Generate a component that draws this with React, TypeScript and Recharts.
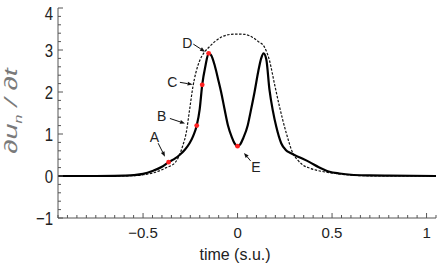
import { ComposedChart, Line, XAxis, YAxis, ReferenceLine, ReferenceDot } from 'recharts'

// solid curve (computed rate)
const solidTime = [-0.95, -0.75, -0.65, -0.6, -0.55, -0.5, -0.45, -0.4, -0.365, -0.33, -0.307, -0.28, -0.254, -0.235, -0.216, -0.2, -0.187, -0.17, -0.153, -0.14, -0.12, -0.1, -0.087, -0.07, -0.051, -0.03, -0.015, 0, 0.015, 0.03, 0.054, 0.07, 0.09, 0.11, 0.125, 0.138, 0.152, 0.169, 0.187, 0.205, 0.231, 0.255, 0.283, 0.33, 0.381, 0.43, 0.487, 0.54, 0.6, 0.7, 0.8, 1.05]
const solidRate = [0, 0, 0.003, 0.008, 0.02, 0.05, 0.12, 0.22, 0.33, 0.42, 0.5, 0.62, 0.78, 0.95, 1.2, 1.6, 2.17, 2.62, 2.92, 2.88, 2.62, 2.25, 2.0, 1.62, 1.21, 0.92, 0.77, 0.71, 0.76, 0.9, 1.21, 1.55, 2.0, 2.5, 2.8, 2.92, 2.78, 2.05, 1.55, 1.17, 0.78, 0.62, 0.54, 0.44, 0.33, 0.21, 0.1, 0.06, 0.03, 0.015, 0.008, 0]

// dashed curve
const dashTime = [-0.95, -0.65, -0.55, -0.5, -0.45, -0.4, -0.377, -0.35, -0.33, -0.307, -0.29, -0.272, -0.254, -0.236, -0.22, -0.201, -0.175, -0.148, -0.12, -0.08, -0.04, 0, 0.04, 0.08, 0.11, 0.141, 0.169, 0.195, 0.222, 0.258, 0.293, 0.32, 0.346, 0.38, 0.416, 0.47, 0.52, 0.6, 0.7, 1.05]
const dashRate = [0, 0, 0.01, 0.03, 0.07, 0.15, 0.2, 0.25, 0.32, 0.5, 0.72, 1.02, 1.57, 2.13, 2.47, 2.74, 2.95, 3.08, 3.2, 3.32, 3.37, 3.38, 3.37, 3.3, 3.2, 3.08, 2.75, 2.2, 1.65, 1.02, 0.54, 0.37, 0.26, 0.19, 0.14, 0.09, 0.06, 0.02, 0.005, 0]

// marked points A..E
const markNames = ['A', 'B', 'C', 'D', 'E']
const markTime = [-0.365, -0.216, -0.187, -0.153, 0]
const markRate = [0.33, 1.2, 2.17, 2.92, 0.71]

// annotation letters and arrows (data units)
const letterTime = [-0.44, -0.402, -0.345, -0.266, 0.097]
const letterRate = [0.94, 1.43, 2.25, 3.17, 0.22]
const arrowTail = [[-0.42, 0.78], [-0.358, 1.37], [-0.305, 2.23], [-0.234, 3.14], [0.069, 0.36]]
const arrowTip = [[-0.384, 0.46], [-0.278, 1.25], [-0.238, 2.18], [-0.172, 2.96], [0.034, 0.55]]

const xMajor = [-0.5, 0, 0.5, 1]
const yMajor = [-1, 0, 1, 2, 3, 4]
const xTicks = Array.from({ length: 41 }, (_, i) => Math.round((-0.95 + i * 0.05) * 100) / 100)
const yTicks = Array.from({ length: 26 }, (_, i) => Math.round((-1 + i * 0.2) * 10) / 10)

const solidData = solidTime.map((t, i) => ({ t, v: solidRate[i] }))
const dashData = dashTime.map((t, i) => ({ t, v: dashRate[i] }))
const markData = markTime.map((t, i) => ({ t, v: markRate[i] }))

const frame = '#555'
const font = '"Liberation Sans", Arial, Helvetica, sans-serif'
const fmt = (v: number) => String(v).replace('-', '\u2212')
const isMaj = (list: number[], v: number) => list.some((m) => Math.abs(m - v) < 1e-6)

const BottomTick = (p: any) => {
  const v = p.payload.value
  const major = isMaj(xMajor, v)
  return (
    <g>
      <line x1={p.x} y1={p.y} x2={p.x} y2={p.y - (major ? 5 : 3)} stroke={frame} />
      {major && (
        <text x={p.x} y={p.y + 19.5} textAnchor="middle" fontSize={15} fontFamily={font} fill="#222">
          {fmt(v)}
        </text>
      )}
    </g>
  )
}

const TopTick = (p: any) => {
  const major = isMaj(xMajor, p.payload.value)
  return <line x1={p.x} y1={p.y} x2={p.x} y2={p.y + (major ? 5 : 3)} stroke={frame} />
}

const LeftTick = (p: any) => {
  const v = p.payload.value
  const major = isMaj(yMajor, v)
  // the top label is pushed down so it stays inside the picture
  const ty = Math.max(p.y, 12.8)
  return (
    <g>
      <line x1={p.x} y1={p.y} x2={p.x + (major ? 5 : 3)} y2={p.y} stroke={frame} />
      {major && (
        <text
          transform={`translate(${p.x - 5},${ty}) scale(1,1.25)`}
          textAnchor="end"
          dy="0.36em"
          fontSize={15}
          fontFamily={font}
          fill="#222"
        >
          {fmt(v)}
        </text>
      )}
    </g>
  )
}

const RightTick = (p: any) => {
  const major = isMaj(yMajor, p.payload.value)
  return <line x1={p.x} y1={p.y} x2={p.x - (major ? 5 : 3)} y2={p.y} stroke={frame} />
}

const XTitle = (p: any) => {
  const vb = p.viewBox
  return (
    <text x={vb.x + vb.width / 2 - 12} y={vb.y + 42} textAnchor="middle" fontSize={16} fontFamily={font} fill="#222">
      time (s.u.)
    </text>
  )
}

const YTitle = () => (
  <text
    transform="translate(11,111) rotate(-90) scale(1.6,1)"
    textAnchor="middle"
    dy="0.35em"
    fontSize={18}
    fontStyle="italic"
    fontFamily={font}
    fill="#7a7a7a"
  >
    ∂u<tspan fontSize={10} dy="5">n</tspan>
    <tspan dy="-5"> / ∂t</tspan>
  </text>
)

const Arrow = (p: any) => {
  const { x1, y1, x2, y2 } = p
  const a = Math.atan2(y2 - y1, x2 - x1)
  const len = 5
  const w = 2
  const bx = x2 - len * Math.cos(a)
  const by = y2 - len * Math.sin(a)
  const pts = `${x2},${y2} ${bx - w * Math.sin(a)},${by + w * Math.cos(a)} ${bx + w * Math.sin(a)},${by - w * Math.cos(a)}`
  return (
    <g>
      <line x1={x1} y1={y1} x2={bx} y2={by} stroke="#111" strokeWidth={1} />
      <polygon points={pts} fill="#111" />
    </g>
  )
}

const Letter = (name: string) => (p: any) => (
  <text x={p.cx} y={p.cy} dy="0.36em" textAnchor="middle" fontSize={14} fontFamily={font} fill="#222">
    {name}
  </text>
)

export default function App() {
  return (
    <div style={{ position: 'absolute', left: 0, top: 0, background: '#fff' }}>
      <ComposedChart width={437} height={265} margin={{ top: 8, right: 1, bottom: 7, left: 8 }}>
        <XAxis
          dataKey="t"
          type="number"
          domain={[-0.95, 1.05]}
          allowDataOverflow
          ticks={xTicks}
          interval={0}
          height={40}
          tickLine={false}
          tickSize={0}
          tickMargin={0}
          tick={BottomTick}
          axisLine={{ stroke: frame }}
          label={<XTitle />}
        />
        <XAxis
          xAxisId="top"
          orientation="top"
          dataKey="t"
          type="number"
          domain={[-0.95, 1.05]}
          allowDataOverflow
          ticks={xTicks}
          interval={0}
          height={0}
          tickLine={false}
          tickSize={0}
          tickMargin={0}
          tick={TopTick}
          axisLine={{ stroke: frame }}
        />
        <YAxis
          type="number"
          domain={[-1, 4]}
          allowDataOverflow
          ticks={yTicks}
          interval={0}
          width={50}
          tickLine={false}
          tickSize={0}
          tickMargin={0}
          tick={LeftTick}
          axisLine={{ stroke: frame }}
          label={<YTitle />}
        />
        <YAxis
          yAxisId="right"
          orientation="right"
          type="number"
          domain={[-1, 4]}
          allowDataOverflow
          ticks={yTicks}
          interval={0}
          width={0}
          tickLine={false}
          tickSize={0}
          tickMargin={0}
          tick={RightTick}
          axisLine={{ stroke: frame }}
        />
        <Line
          data={dashData}
          dataKey="v"
          type="monotone"
          stroke="#111"
          strokeWidth={1.2}
          strokeDasharray="2.5 1.5"
          dot={false}
          isAnimationActive={false}
        />
        <Line
          data={solidData}
          dataKey="v"
          type="monotone"
          stroke="#000"
          strokeWidth={2.2}
          dot={false}
          isAnimationActive={false}
        />
        <Line
          data={markData}
          dataKey="v"
          stroke="none"
          dot={{ r: 2.4, fill: '#ff2020', stroke: 'none' }}
          isAnimationActive={false}
        />
        {markNames.map((n, i) => (
          <ReferenceLine
            key={'a' + n}
            segment={[
              { x: arrowTail[i][0], y: arrowTail[i][1] },
              { x: arrowTip[i][0], y: arrowTip[i][1] },
            ]}
            shape={Arrow}
          />
        ))}
        {markNames.map((n, i) => (
          <ReferenceDot key={'l' + n} x={letterTime[i]} y={letterRate[i]} r={0} shape={Letter(n)} />
        ))}
      </ComposedChart>
    </div>
  )
}
